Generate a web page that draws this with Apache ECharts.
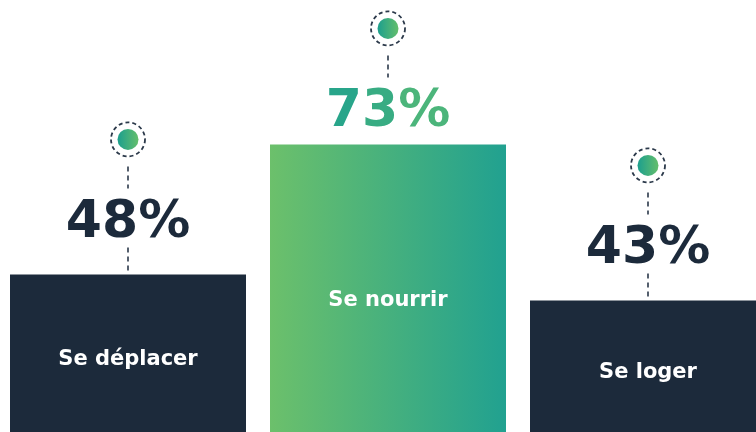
<!DOCTYPE html>
<html>
<head>
<meta charset="utf-8">
<script src="https://cdn.jsdelivr.net/npm/echarts@6/dist/echarts.min.js"></script>
<style>
html,body{margin:0;padding:0;background:#fff;}
#chart{width:756px;height:432px;}
</style>
</head>
<body>
<div id="chart"></div>
<script>
const categories = ['Se déplacer', 'Se nourrir', 'Se loger'];
const values = [48, 73, 43];
const valueLabels = ['48%', '73%', '43%'];

const NAVY = '#1c2a3b';
const GREEN = '#6cc06b';
const TEAL = '#21a190';
const featured = values.indexOf(Math.max.apply(null, values));

const chart = echarts.init(document.getElementById('chart'));

function barGrad() {
  return new echarts.graphic.LinearGradient(0, 0, 1, 0, [
    { offset: 0, color: GREEN }, { offset: 1, color: TEAL }
  ]);
}
function dotGrad() {
  return new echarts.graphic.LinearGradient(0, 0, 1, 0, [
    { offset: 0, color: '#1c9f8e' }, { offset: 1, color: '#64be6c' }
  ]);
}

const FONT = '"DejaVu Sans", sans-serif';
const BIG = 'bold 52px ' + FONT;
const measureCtx = document.createElement('canvas').getContext('2d');

function lerpColor(a, b, t) {
  const pa = [1, 3, 5].map(k => parseInt(a.substr(k, 2), 16));
  const pb = [1, 3, 5].map(k => parseInt(b.substr(k, 2), 16));
  return 'rgb(' + pa.map((c, k) => Math.round(c + (pb[k] - c) * t)).join(',') + ')';
}

function gradientText(str, x, y) {
  measureCtx.font = BIG;
  const total = measureCtx.measureText(str).width;
  let cx = x - total / 2;
  const out = [];
  for (let k = 0; k < str.length; k++) {
    const ch = str[k];
    const w = measureCtx.measureText(ch).width;
    const t = (cx + w / 2 - (x - total / 2)) / total;
    out.push({ type: 'text', x: cx, y: y,
      style: { text: ch, fill: lerpColor('#20a18d', '#58ba76', t),
        font: BIG, align: 'left', verticalAlign: 'middle' } });
    cx += w;
  }
  return out;
}

chart.setOption({
  animation: false,
  grid: { left: -2, top: 4, width: 780, height: 520, outerBoundsMode: 'none', containLabel: false },
  xAxis: { type: 'category', data: categories, show: false },
  yAxis: { type: 'value', min: 0, max: 100, show: false },
  series: [
    {
      type: 'bar',
      barWidth: 236,
      data: values.map((v, i) => ({
        value: v,
        itemStyle: { color: i === featured ? barGrad() : NAVY }
      }))
    },
    {
      type: 'custom',
      clip: false,
      z: 5,
      data: values.map((v, i) => [i, v]),
      encode: { x: 0, y: 1 },
      renderItem: function (params, api) {
        const i = api.value(0);
        const v = api.value(1);
        const p = api.coord([i, v]);
        const x = p[0], top = p[1];
        const H = Math.min(api.getHeight(), 432);
        const isF = i === featured;
        const labelY = isF ? top - 32 : top - 51;
        const dash = { stroke: '#2b394a', lineWidth: 1.6, lineDash: [5, 4] };
        const children = [];
        if (!isF) {
          children.push({ type: 'line', shape: { x1: x, y1: top - 27, x2: x, y2: top - 1 }, style: dash });
        }
        children.push({ type: 'line', shape: { x1: x, y1: labelY - 57, x2: x, y2: labelY - 35 }, style: dash });
        children.push({ type: 'circle', shape: { cx: x, cy: labelY - 84, r: 17 },
          style: { fill: 'none', stroke: '#2b394a', lineWidth: 1.8, lineDash: [4, 3] } });
        children.push({ type: 'circle', shape: { cx: x, cy: labelY - 84, r: 10.5 },
          style: { fill: dotGrad() } });
        if (isF) {
          gradientText(valueLabels[i], x, labelY).forEach(c => children.push(c));
        } else {
          children.push({ type: 'text', x: x, y: labelY,
            style: { text: valueLabels[i], fill: NAVY,
              font: BIG, align: 'center', verticalAlign: 'middle' } });
        }
        children.push({ type: 'text', x: x, y: (H + top) / 2 + (isF ? 12 : 6),
          style: { text: categories[i], fill: '#ffffff',
            font: 'bold 21px ' + FONT, align: 'center', verticalAlign: 'middle' } });
        return { type: 'group', children: children };
      }
    }
  ]
});
</script>
</body>
</html>
